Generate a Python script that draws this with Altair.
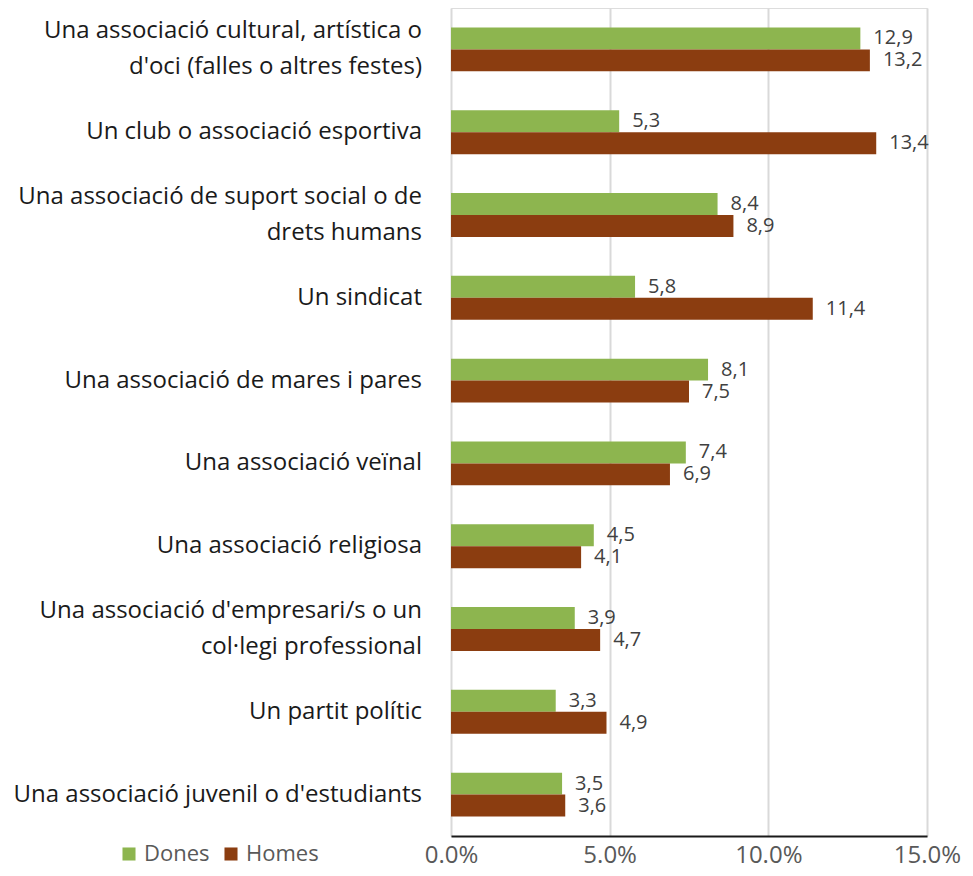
import altair as alt
import pandas as pd

categories = [
    "Una associació cultural, artística o|d'oci (falles o altres festes)",
    "Un club o associació esportiva",
    "Una associació de suport social o de|drets humans",
    "Un sindicat",
    "Una associació de mares i pares",
    "Una associació veïnal",
    "Una associació religiosa",
    "Una associació d'empresari/s o un|col·legi professional",
    "Un partit polític",
    "Una associació juvenil o d'estudiants",
]
series = ["Dones", "Homes"]
dones = [12.9, 5.3, 8.4, 5.8, 8.1, 7.4, 4.5, 3.9, 3.3, 3.5]
homes = [13.2, 13.4, 8.9, 11.4, 7.5, 6.9, 4.1, 4.7, 4.9, 3.6]
tick_values = [0, 5, 10, 15]
colors = ["#8DB54F", "#8B3D10"]

rows = []
for c, d, h in zip(categories, dones, homes):
    rows.append({"cat": c, "serie": "Dones", "v": d})
    rows.append({"cat": c, "serie": "Homes", "v": h})
df = pd.DataFrame(rows)
df_cat = pd.DataFrame({"cat": categories})

FONT = "Open Sans"
LINE_H = 36

y_scale = alt.Scale(domain=categories, paddingInner=0.47, paddingOuter=0.235)

y_enc = alt.Y(
    "cat:N",
    sort=categories,
    scale=y_scale,
    axis=alt.Axis(title=None, domain=False, ticks=False, labels=False),
)
x_enc = alt.X(
    "v:Q",
    scale=alt.Scale(domain=[0, 15], nice=False),
    axis=alt.Axis(
        title=None,
        values=tick_values,
        labelExpr="format(datum.value, '.1f') + '%'",
        labelFontSize=24,
        labelFont=FONT,
        labelColor="#595959",
        labelPadding=7,
        ticks=False,
        domain=True,
        domainColor="#1a1a1a",
        domainWidth=2,
        grid=True,
        gridColor="#d9d9d9",
        gridWidth=2,
        labelFlush=False,
    ),
)
yoff = alt.YOffset("serie:N", sort=series)

bars = alt.Chart(df).mark_bar().encode(
    x=x_enc,
    y=y_enc,
    yOffset=yoff,
    color=alt.Color(
        "serie:N",
        sort=series,
        scale=alt.Scale(domain=series, range=colors),
        legend=alt.Legend(
            title=None,
            orient="none",
            legendX=-333,
            legendY=835,
            direction="horizontal",
            symbolType="square",
            symbolSize=170,
            symbolStrokeWidth=0,
            labelFontSize=22,
            labelFont=FONT,
            labelColor="#595959",
            labelOffset=4,
            columnPadding=10,
        ),
    ),
)

text = alt.Chart(df).transform_calculate(
    lab="replace(format(datum.v, '.1f'), '.', ',')"
).mark_text(
    align="left", baseline="middle", dx=13, fontSize=20, font=FONT, color="#404040"
).encode(
    x=alt.X("v:Q"),
    y=alt.Y("cat:N", sort=categories, scale=y_scale),
    yOffset=yoff,
    text="lab:N",
)

label_style = dict(
    align="right",
    baseline="middle",
    lineBreak="|",
    lineHeight=LINE_H,
    fontSize=24,
    font=FONT,
    color="#1a1a1a",
)

single_labels = alt.Chart(df_cat).transform_filter(
    "indexof(datum.cat, '|') < 0"
).mark_text(**label_style).encode(
    x=alt.value(-29),
    y=alt.Y("cat:N", sort=categories, scale=y_scale),
    text="cat:N",
)

multi_labels = alt.Chart(df_cat).transform_filter(
    "indexof(datum.cat, '|') >= 0"
).mark_text(dy=-LINE_H / 2, **label_style).encode(
    x=alt.value(-29),
    y=alt.Y("cat:N", sort=categories, scale=y_scale),
    text="cat:N",
)

chart = alt.layer(bars, text, single_labels, multi_labels).properties(
    width=476,
    height=828,
    autosize=alt.AutoSizeParams(type="none"),
    padding={"left": 443, "top": 0, "right": 38, "bottom": 32},
).configure_view(stroke=None).configure(background="white")

chart.save("out.html", embed_options={"renderer": "svg", "actions": False})
